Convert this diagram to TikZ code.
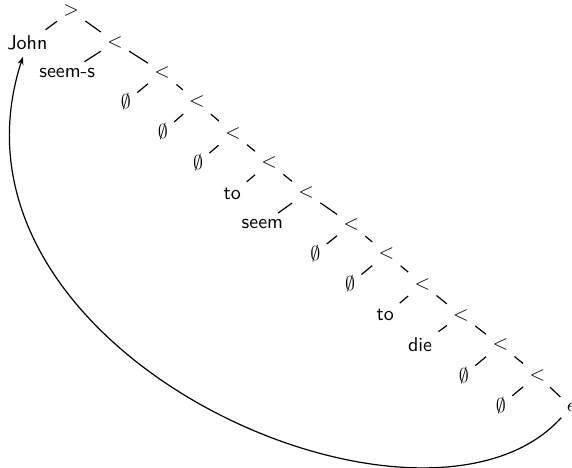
\documentclass[tikz,border=0pt]{standalone}
\usepackage{amssymb}
\usepackage{tikz}
\usetikzlibrary{arrows.meta}
\tikzset{
  >={Stealth[length=1.4mm]},
  branch/.style={line width=0.6pt, draw=black},
  move/.style={->, line width=0.6pt, draw=black},
  word/.style={font=\sffamily, inner sep=3pt},
  head/.style={word}
}

\begin{document}
\begin{tikzpicture}
      \useasboundingbox (0,0) rectangle (10.05,-8.22);

      % projecting nodes
      \node[head] (root) at (1.25,-0.19) {$>$};
      \node[head] (lta) at (2.02,-0.74) {$<$};
      \node[head] (ltb) at (2.85,-1.27) {$<$};
      \node[head] (ltc) at (3.46,-1.79) {$<$};
      \node[head] (ltd) at (4.09,-2.34) {$<$};
      \node[head] (lte) at (4.73,-2.86) {$<$};
      \node[head] (ltf) at (5.38,-3.39) {$<$};
      \node[head] (ltg) at (6.17,-3.94) {$<$};
      \node[head] (lth) at (6.79,-4.46) {$<$};
      \node[head] (lti) at (7.42,-4.99) {$<$};
      \node[head] (ltj) at (8.10,-5.54) {$<$};
      \node[head] (ltk) at (8.79,-6.06) {$<$};
      \node[head] (ltl) at (9.44,-6.59) {$<$};

      % leaves
      \node[word] (john) at (0.48,-0.76) {John};
      \node[word] (seems) at (1.18,-1.28) {seem-s};
      \node[word] (nulla) at (2.21,-1.79) {$\emptyset$};
      \node[word] (nullb) at (2.86,-2.32) {$\emptyset$};
      \node[word] (nullc) at (3.48,-2.86) {$\emptyset$};
      \node[word] (toa) at (4.08,-3.41) {to};
      \node[word] (seem) at (4.61,-3.94) {seem};
      \node[word] (nulld) at (5.54,-4.45) {$\emptyset$};
      \node[word] (nulle) at (6.15,-4.99) {$\emptyset$};
      \node[word] (tob) at (6.77,-5.54) {to};
      \node[word] (die) at (7.38,-6.06) {die};
      \node[word] (nullf) at (8.15,-6.59) {$\emptyset$};
      \node[word] (nullg) at (8.80,-7.12) {$\emptyset$};
      \node[word] (trace) at (10.03,-7.15) {$\epsilon$};

      \draw[branch] (root) -- (john);
      \draw[branch] (root) -- (lta);
      \draw[branch] (lta) -- (seems);
      \draw[branch] (lta) -- (ltb);
      \draw[branch] (ltb) -- (nulla);
      \draw[branch] (ltb) -- (ltc);
      \draw[branch] (ltc) -- (nullb);
      \draw[branch] (ltc) -- (ltd);
      \draw[branch] (ltd) -- (nullc);
      \draw[branch] (ltd) -- (lte);
      \draw[branch] (lte) -- (toa);
      \draw[branch] (lte) -- (ltf);
      \draw[branch] (ltf) -- (seem);
      \draw[branch] (ltf) -- (ltg);
      \draw[branch] (ltg) -- (nulld);
      \draw[branch] (ltg) -- (lth);
      \draw[branch] (lth) -- (nulle);
      \draw[branch] (lth) -- (lti);
      \draw[branch] (lti) -- (tob);
      \draw[branch] (lti) -- (ltj);
      \draw[branch] (ltj) -- (die);
      \draw[branch] (ltj) -- (ltk);
      \draw[branch] (ltk) -- (nullf);
      \draw[branch] (ltk) -- (ltl);
      \draw[branch] (ltl) -- (nullg);
      \draw[branch] (ltl) -- (trace);

      % movement
      \draw[move] (trace) to[out=-132,in=-108,out distance=3.6cm,in distance=5.5cm] (john);
\end{tikzpicture}
\end{document}
